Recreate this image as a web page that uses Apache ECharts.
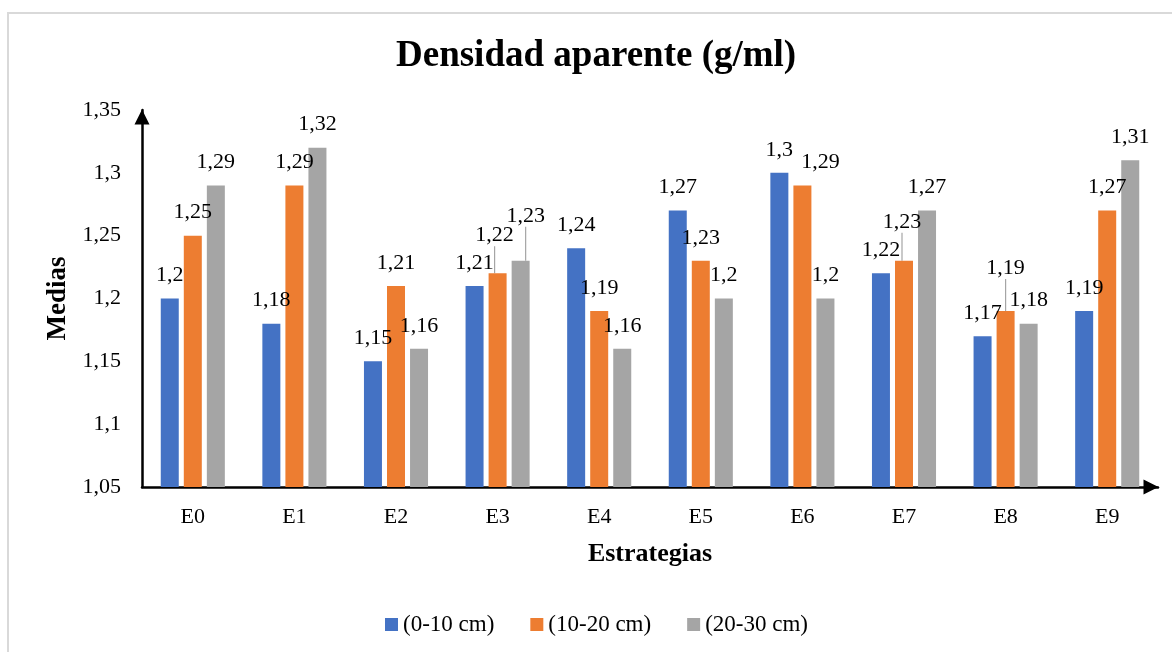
<!DOCTYPE html>
<html>
<head>
<meta charset="utf-8">
<script src="https://cdn.jsdelivr.net/npm/echarts@6/dist/echarts.min.js"></script>
<style>
  html, body { margin: 0; padding: 0; background: #fff; }
  #chart { width: 1172px; height: 652px; }
</style>
</head>
<body>
<div id="chart"></div>
<script>
// categorias y valores
var estrategias = ['E0', 'E1', 'E2', 'E3', 'E4', 'E5', 'E6', 'E7', 'E8', 'E9'];
var prof0_10  = [1.2, 1.18, 1.15, 1.21, 1.24, 1.27, 1.3, 1.22, 1.17, 1.19];
var prof10_20 = [1.25, 1.29, 1.21, 1.22, 1.19, 1.23, 1.29, 1.23, 1.19, 1.27];
var prof20_30 = [1.29, 1.32, 1.16, 1.23, 1.16, 1.2, 1.2, 1.27, 1.18, 1.31];
var nombres = ['(0-10 cm)', '(10-20 cm)', '(20-30 cm)'];
var colores = ['#4472C4', '#ED7D31', '#A5A5A5'];

// etiquetas desplazadas (serie-indice) -> [dx, dy, con linea guia]
var etiquetasMovidas = {
    '1-3': [-3, -15, true],
    '2-3': [5, -22, true],
    '1-6': [18, 0, false],
    '1-7': [-2, -16, true],
    '1-8': [0, -20, true]
};

var fuente = 'Liberation Serif, Times New Roman, serif';

function coma(v) {
    return String(+(+v).toFixed(2)).replace('.', ',');
}

function serie(idx, valores) {
    return {
        name: nombres[idx],
        type: 'bar',
        barWidth: 18,
        barGap: '28%',
        itemStyle: { color: colores[idx] },
        data: valores.map(function (v, i) {
            var m = etiquetasMovidas[idx + '-' + i];
            if (m && m[2]) {
                return { value: v, labelLine: { show: true } };
            }
            return v;
        }),
        label: {
            show: true,
            position: 'top',
            distance: 12,
            color: '#000',
            fontFamily: fuente,
            fontSize: 22,
            formatter: function (p) { return coma(p.value); }
        },
        labelLine: {
            show: false,
            lineStyle: { color: '#A5A5A5', width: 1.2 }
        },
        labelLayout: function (p) {
            var m = etiquetasMovidas[idx + '-' + p.dataIndex];
            if (!m) return {};
            return { dx: m[0], dy: m[1] };
        }
    };
}

var ejeLinea = {
    show: true,
    symbol: ['none', 'triangle'],
    symbolSize: [15, 15],
    symbolOffset: [0, -7],
    lineStyle: { color: '#000', width: 2.5 }
};

var myChart = echarts.init(document.getElementById('chart'));
var option = {
    backgroundColor: '#fff',
    animation: false,
    title: {
        text: 'Densidad aparente (g/ml)',
        left: 391,
        top: 33,
        textStyle: {
            fontFamily: fuente,
            fontSize: 37,
            fontWeight: 'bold',
            color: '#000'
        }
    },
    graphic: [{
        type: 'rect',
        silent: true,
        z: -10,
        shape: { x: 8, y: 13, width: 1200, height: 700 },
        style: { fill: 'none', stroke: '#D9D9D9', lineWidth: 2 }
    }],
    legend: {
        data: nombres,
        left: 380,
        top: 608,
        itemWidth: 13,
        itemHeight: 13,
        itemGap: 36,
        icon: 'rect',
        textStyle: {
            fontFamily: fuente,
            fontSize: 23,
            color: '#000'
        }
    },
    grid: {
        left: 142,
        right: 14,
        top: 110,
        bottom: 165,
        containLabel: false
    },
    xAxis: {
        type: 'category',
        data: estrategias,
        name: 'Estrategias',
        nameLocation: 'middle',
        nameGap: 54,
        nameTextStyle: {
            fontFamily: fuente,
            fontSize: 26,
            fontWeight: 'bold',
            color: '#000'
        },
        axisTick: { show: false },
        axisLine: ejeLinea,
        axisLabel: {
            margin: 19,
            fontFamily: fuente,
            fontSize: 22,
            color: '#000'
        }
    },
    yAxis: {
        type: 'value',
        min: 1.05,
        max: 1.35,
        interval: 0.05,
        name: 'Medias',
        nameLocation: 'middle',
        nameRotate: 90,
        nameGap: 70,
        nameTextStyle: {
            fontFamily: fuente,
            fontSize: 27,
            fontWeight: 'bold',
            color: '#000'
        },
        splitLine: { show: false },
        axisTick: { show: false },
        axisLine: ejeLinea,
        axisLabel: {
            margin: 21,
            fontFamily: fuente,
            fontSize: 22,
            color: '#000',
            formatter: function (v) { return coma(v); }
        }
    },
    series: [
        serie(0, prof0_10),
        serie(1, prof10_20),
        serie(2, prof20_30)
    ]
};
myChart.setOption(option);
window.addEventListener('resize', function () {
    myChart.resize();
});
</script>
</body>
</html>
